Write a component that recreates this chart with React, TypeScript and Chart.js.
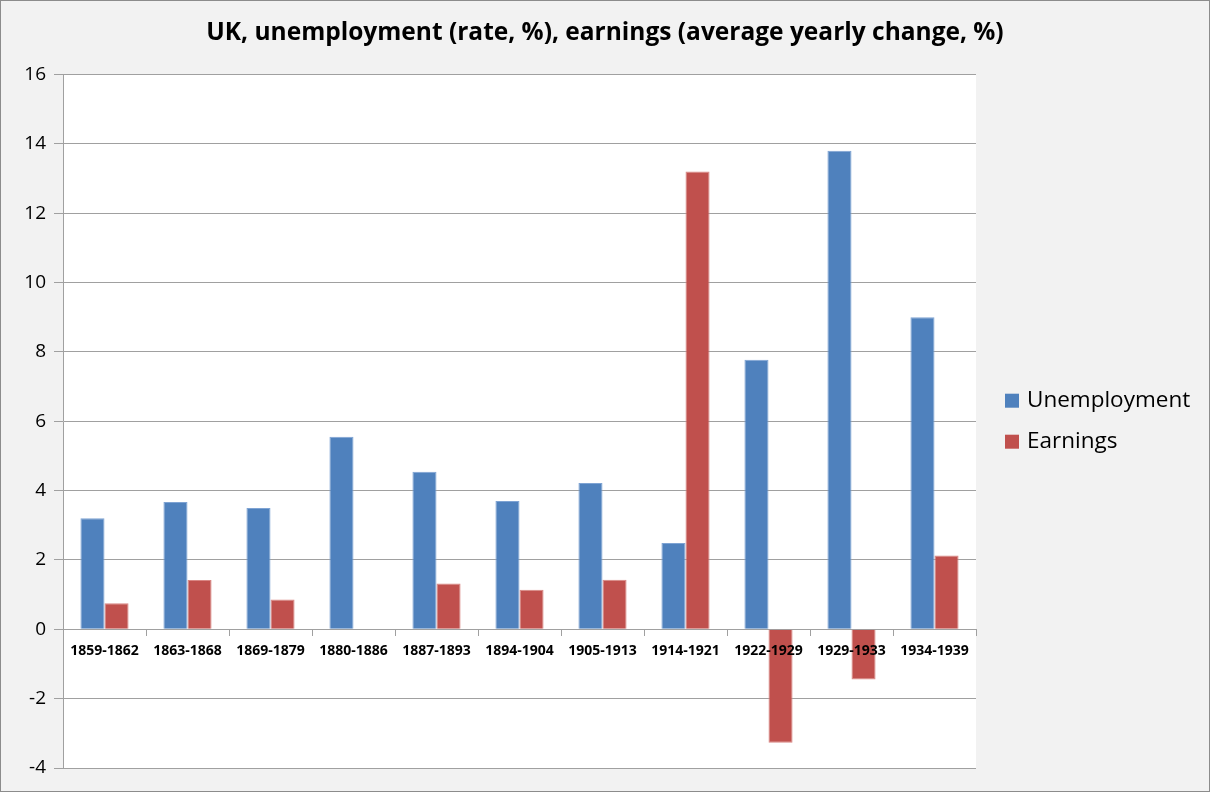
import React, { useEffect, useRef } from "react";
import { Chart, registerables } from "chart.js";

Chart.register(...registerables);

const titleText = "UK, unemployment (rate, %), earnings (average yearly change, %)";
const categories = [
  "1859-1862", "1863-1868", "1869-1879", "1880-1886", "1887-1893", "1894-1904",
  "1905-1913", "1914-1921", "1922-1929", "1929-1933", "1934-1939",
];
const unemployment = [3.2, 3.67, 3.5, 5.55, 4.54, 3.7, 4.22, 2.49, 7.77, 13.8, 9.0];
const earnings = [0.75, 1.42, 0.86, 0, 1.32, 1.14, 1.43, 13.2, -3.27, -1.45, 2.13];
const yMin = -4;
const yMax = 16;
const yStep = 2;

const FONT = "'Open Sans', 'DejaVu Sans', sans-serif";

const backgroundPlugin = {
  id: "bgPlugin",
  beforeDraw(chart: any) {
    const { ctx, width, height, chartArea } = chart;
    ctx.save();
    ctx.fillStyle = "#f2f2f2";
    ctx.fillRect(0, 0, width, height);
    ctx.fillStyle = "#ffffff";
    ctx.fillRect(chartArea.left, chartArea.top, chartArea.right - chartArea.left, chartArea.bottom - chartArea.top);
    ctx.restore();
  },
  afterDraw(chart: any) {
    const { ctx, width, height, chartArea } = chart;
    ctx.save();
    // legend at the right, vertically centred on the plot area
    const items = chart.data.datasets;
    const spacing = 41;
    const boxSize = 14;
    const left = chartArea.right + 29;
    const midY = (chartArea.top + chartArea.bottom) / 2;
    const startY = midY - ((items.length - 1) * spacing) / 2;
    ctx.font = `22.5px ${FONT}`;
    ctx.textBaseline = "middle";
    ctx.textAlign = "left";
    items.forEach((ds: any, i: number) => {
      const cy = startY + i * spacing;
      ctx.fillStyle = ds.backgroundColor;
      ctx.fillRect(left, cy - boxSize / 2, boxSize, boxSize);
      ctx.fillStyle = "#000";
      ctx.fillText(ds.label, left + boxSize + 8, cy);
    });
    // outer frame
    ctx.strokeStyle = "#8c8c8c";
    ctx.lineWidth = 1;
    ctx.strokeRect(0.5, 0.5, width - 1, height - 1);
    ctx.restore();
  },
};

export default function App() {
  const ref = useRef<HTMLCanvasElement | null>(null);

  useEffect(() => {
    if (!ref.current) return;
    const chart = new Chart(ref.current, {
      type: "bar",
      data: {
        labels: categories,
        datasets: [
          {
            label: "Unemployment",
            data: unemployment,
            backgroundColor: "#4f81bd",
            borderColor: "#7ea3d3",
            borderWidth: 1,
          },
          {
            label: "Earnings",
            data: earnings,
            backgroundColor: "#c0504d",
            borderColor: "#d98683",
            borderWidth: 1,
          },
        ],
      },
      options: {
        animation: false,
        responsive: true,
        maintainAspectRatio: false,
        datasets: { bar: { categoryPercentage: 0.58, barPercentage: 1.0 } },
        layout: { padding: { left: 0, right: 0, top: 0, bottom: 24 } },
        plugins: {
          title: {
            display: true,
            text: titleText,
            color: "#000",
            font: { family: FONT, size: 24.5, weight: "bold" },
            padding: { top: 18, bottom: 27 },
          },
          legend: { display: false },
          tooltip: { enabled: false },
        },
        scales: {
          x: {
            position: { y: 0 } as any,
            grid: {
              drawOnChartArea: false,
              drawTicks: true,
              tickLength: 6,
              color: "#a0a0a0",
              offset: true,
            },
            border: { display: true, color: "#a0a0a0" },
            ticks: {
              z: 1,
              autoSkip: false,
              maxRotation: 0,
              minRotation: 0,
              color: "#000",
              padding: 7,
              font: { family: FONT, size: 14, weight: "bold" },
            },
          },
          y: {
            min: yMin,
            max: yMax,
            afterFit: (scale: any) => {
              scale.width = 63;
            },
            ticks: {
              stepSize: yStep,
              color: "#000",
              padding: 8,
              font: { family: FONT, size: 19 },
            },
            grid: { color: "#a0a0a0", tickLength: 9 },
            border: { display: true, color: "#a0a0a0" },
          },
          legendSpace: {
            type: "linear",
            position: "right",
            display: true,
            afterFit: (scale: any) => {
              scale.width = 234;
            },
            grid: { display: false, drawTicks: false },
            border: { display: false },
            ticks: { display: false },
          },
        },
      },
      plugins: [backgroundPlugin],
    });
    return () => chart.destroy();
  }, []);

  return (
    <div style={{ position: "fixed", left: 0, top: 0, width: 1210, height: 792 }}>
      <canvas ref={ref} />
    </div>
  );
}
